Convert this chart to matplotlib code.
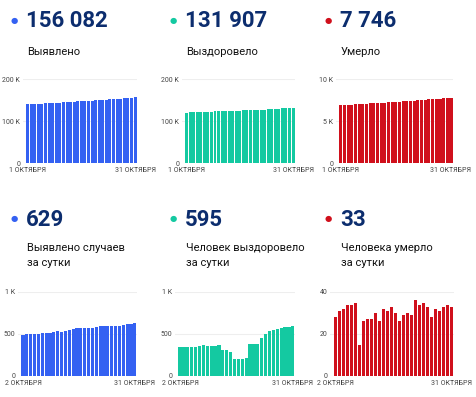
import matplotlib
matplotlib.use("Agg")
import matplotlib.pyplot as plt

plt.rcParams["font.family"] = ["Roboto", "DejaVu Sans"]

W, H = 477, 397

# cumulative totals, 1-31 October
total_detected = [139300, 139800, 140300, 140800, 141300, 141800, 142300, 142800, 143350, 143900,
                  144400, 144950, 145500, 146050, 146600, 147150, 147700, 148250, 148800, 149350,
                  149950, 150500, 151100, 151700, 152300, 152900, 153500, 154100, 154700, 155400,
                  156082]
total_recovered = [119900, 120250, 120600, 120950, 121300, 121650, 122000, 122350, 122700, 123050,
                   123400, 123750, 124050, 124350, 124650, 124850, 125050, 125250, 125450, 125850,
                   126250, 126650, 127100, 127600, 128150, 128700, 129250, 129800, 130400, 130950,
                   131907]
total_deaths = [6850, 6880, 6910, 6940, 6975, 7010, 7045, 7060, 7085, 7110,
                7140, 7165, 7195, 7225, 7255, 7285, 7310, 7340, 7370, 7400,
                7435, 7470, 7505, 7540, 7570, 7600, 7630, 7660, 7695, 7730,
                7746]

# daily values, 2-31 October
daily_detected = [490, 500, 505, 500, 505, 510, 515, 515, 520, 530,
                  525, 535, 550, 560, 570, 575, 575, 570, 575, 585,
                  590, 590, 590, 600, 600, 595, 610, 615, 620, 629]
daily_recovered = [340, 350, 350, 345, 340, 355, 365, 355, 355, 360,
                   370, 315, 305, 290, 205, 205, 205, 210, 385, 385,
                   385, 450, 500, 540, 545, 560, 575, 585, 580, 595]
daily_deaths = [28, 31, 32, 34, 34, 35, 15, 26, 27, 27,
                30, 26, 32, 31, 33, 30, 26, 29, 30, 29,
                36, 34, 35, 33, 28, 32, 31, 33, 34, 33]

big_numbers = ["156 082", "131 907", "7 746", "629", "595", "33"]
titles = ["Выявлено", "Выздоровело", "Умерло",
          "Выявлено случаев\nза сутки", "Человек выздоровело\nза сутки", "Человека умерло\nза сутки"]
top_ticks = [([0, 100000, 200000], ["0", "100 K", "200 K"]),
             ([0, 100000, 200000], ["0", "100 K", "200 K"]),
             ([0, 5000, 10000], ["0", "5 K", "10 K"])]
bottom_ticks = [([0, 500, 1000], ["0", "500", "1 K"]),
                ([0, 500, 1000], ["0", "500", "1 K"]),
                ([0, 20, 40], ["0", "20", "40"])]
top_dates = ["1 ОКТЯБРЯ", "31 ОКТЯБРЯ"]
bottom_dates = ["2 ОКТЯБРЯ", "31 ОКТЯБРЯ"]

colors = ["#3461f2", "#14c9a1", "#d0101c"]
navy = "#0c2d6e"

fig = plt.figure(figsize=(W / 100, H / 100), dpi=100)


def px_axes(x0, y0, x1, y1):
    return fig.add_axes([x0 / W, 1 - y1 / H, (x1 - x0) / W, (y1 - y0) / H])


def panel(values, color, ticks, dates, x0, x1, ytop, ybot):
    ax = px_axes(x0, ytop, x1, ybot)
    n = len(values)
    ax.bar(range(n), values, width=0.84, color=color, linewidth=0, zorder=2)
    ax.set_xlim(-1.3, n - 0.45)
    ax.set_ylim(0, ticks[0][-1])
    ax.set_yticks(ticks[0])
    ax.set_yticklabels(ticks[1])
    ax.set_xticks([0, n - 1])
    ax.set_xticklabels(dates)
    ax.tick_params(length=0, labelsize=5, colors="#444444", pad=3)
    ax.tick_params(axis="y", pad=2)
    ax.grid(axis="y", color="#eeeeee", linewidth=0.8, zorder=0)
    for s in ax.spines.values():
        s.set_visible(False)
    return ax


top_series = [total_detected, total_recovered, total_deaths]
bottom_series = [daily_detected, daily_recovered, daily_deaths]
top_x = [(23, 137), (182, 295), (336, 453)]
bot_x = [(18, 137), (175, 295), (330, 454)]
col_x = [27, 186, 341]

for i in range(3):
    panel(top_series[i], colors[i], top_ticks[i], top_dates, *top_x[i], 79, 163)
    panel(bottom_series[i], colors[i], bottom_ticks[i], bottom_dates, *bot_x[i], 292, 376)

for row in range(2):
    for i in range(3):
        k = row * 3 + i
        ynum = 21 if row == 0 else 220
        fig.text((col_x[i] - 16) / W, 1 - (ynum - 1) / H, "●", color=colors[i],
                 fontsize=6, ha="left", va="center", family="DejaVu Sans")
        fig.text((col_x[i] - 1) / W, 1 - ynum / H, big_numbers[k], color=navy,
                 fontsize=16, fontweight="bold", ha="left", va="center")
        ytitle = 52 if row == 0 else 248
        for j, line in enumerate(titles[k].split("\n")):
            fig.text(col_x[i] / W, 1 - (ytitle + 15 * j) / H, line, color="#111111",
                     fontsize=8, ha="left", va="center")

fig.savefig("out.png", dpi=100)
